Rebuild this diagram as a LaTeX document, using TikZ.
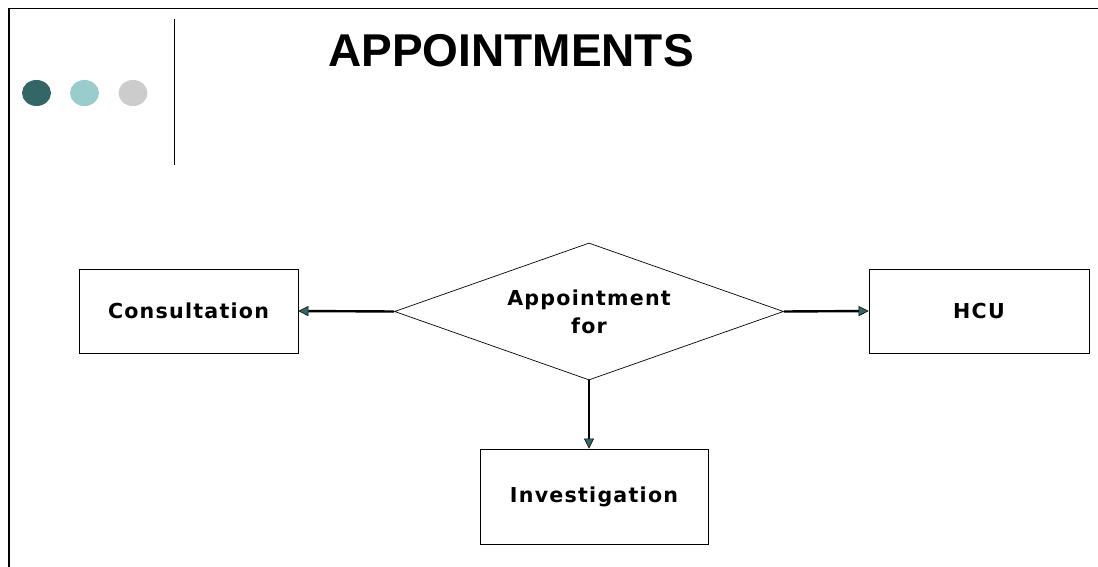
\documentclass[tikz,border=0pt]{standalone}
\usepackage{fontspec}
\setmainfont{Liberation Sans}
\newfontfamily\boxfont[LetterSpace=6]{DejaVu Sans}
\usetikzlibrary{shapes.geometric,arrows.meta}
\definecolor{tealdark}{HTML}{336666}
\definecolor{teallight}{HTML}{99CCCC}
\definecolor{dotgrey}{HTML}{CCCCCC}
\begin{document}
\begin{tikzpicture}[x=1pt,y=-1pt,
  entity/.style={draw=black,line width=0.8pt,inner sep=0pt,font=\boxfont\bfseries\fontsize{20.6}{24}\selectfont},
  flow/.style={draw=black,line width=2.4pt,-{Triangle[length=10pt,width=10pt,fill=tealdark,line width=0.6pt]}}]
\useasboundingbox (0,0) rectangle (1098,567);
% slide frame
\draw[line width=1.6pt] (9,567) -- (9,8.5) -- (1098,8.5);
% decorative dots and divider
\fill[tealdark] (36.5,93) ellipse (14.5pt and 13pt);
\fill[teallight] (84.5,93) ellipse (14.5pt and 13pt);
\fill[dotgrey] (133,93) ellipse (14.5pt and 13pt);
\draw[line width=1pt] (174.5,19) -- (174.5,165);
% title
\node[font=\bfseries\fontsize{46}{50}\selectfont,anchor=base] (title) at (511,67) {APPOINTMENTS};
% decision and outcomes
\node[draw=black,line width=0.7pt,shape=diamond,shape aspect=2.84,minimum width=389pt,minimum height=137pt,inner sep=0pt,align=center,font=\boxfont\bfseries\fontsize{20.6}{28}\selectfont] (appt) at (589,311.5) {Appointment\\for};
\node[entity,minimum width=219pt,minimum height=84pt] (cons) at (188.5,311) {Consultation};
\node[entity,minimum width=220pt,minimum height=84pt] (hcu) at (979,311) {HCU};
\node[entity,minimum width=228pt,minimum height=95pt] (inv) at (594,496.5) {Investigation};
% connectors
\draw[flow] (appt.west) -- (cons.east);
\draw[flow] (appt.east) -- (hcu.west);
\draw[flow] (appt.south) -- (appt.south |- inv.north);
\end{tikzpicture}
\end{document}
